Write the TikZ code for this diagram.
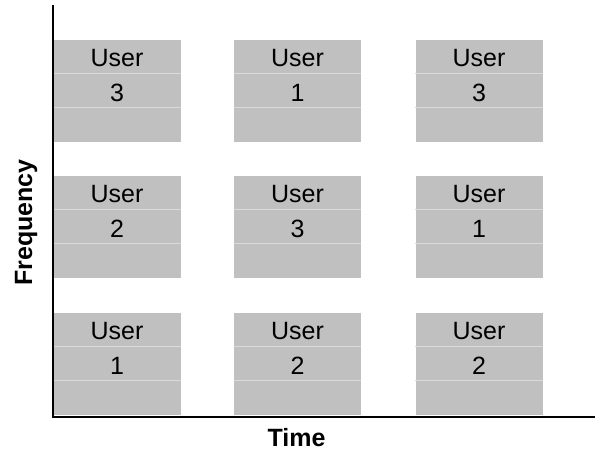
\documentclass[tikz,border=0pt]{standalone}
\usepackage{fontspec}
\setmainfont{Liberation Sans}
\definecolor{slotgray}{RGB}{192,192,192}
\definecolor{stripegray}{RGB}{218,218,218}
\begin{document}
\begin{tikzpicture}[x=1pt,y=-1pt,
  slot/.style={draw=none, fill=slotgray, minimum width=127pt, minimum height=102pt, inner sep=0pt},
  stripe/.style={draw=stripegray, line width=0.8pt},
  lbl/.style={font=\fontsize{25}{25}\selectfont, anchor=base, inner sep=0pt},
  axislbl/.style={font=\fontsize{25}{25}\selectfont\bfseries, anchor=base, inner sep=0pt},
  axis/.style={line width=2.6pt, line join=miter}]
\useasboundingbox[fill=white] (0,0) rectangle (595,450);

% time/frequency slots: \row/\col/\user
\foreach \r/\yc in {1/91, 2/227, 3/364}{
  \foreach \c/\xc in {1/117, 2/297.5, 3/479}{
    \node[slot] (b\r\c) at (\xc,\yc) {};
    \draw[stripe] ([yshift=-34pt]b\r\c.north west) -- ([yshift=-34pt]b\r\c.north east);
    \draw[stripe] ([yshift=-68pt]b\r\c.north west) -- ([yshift=-68pt]b\r\c.north east);
    \node[lbl] (u\r\c) at ([yshift=-27pt]b\r\c.north) {User};
  }
}
\foreach \r/\c/\n in {1/1/3, 1/2/1, 1/3/3, 2/1/2, 2/2/3, 2/3/1, 3/1/1, 3/2/2, 3/3/2}{
  \node[lbl] (n\r\c) at ([yshift=-62pt]b\r\c.north) {\n};
}

% axes, the time axis running out to the right edge
\coordinate (ytop) at (53,5);
\coordinate (orig) at (53,417);
\coordinate (xend) at (595,417);
\draw[axis] (ytop) -- (orig) -- (xend);

\node[axislbl, rotate=90] (freq) at (32,222.5) {Frequency};
\node[axislbl] (time) at (296.5,446) {Time};
\end{tikzpicture}
\end{document}
